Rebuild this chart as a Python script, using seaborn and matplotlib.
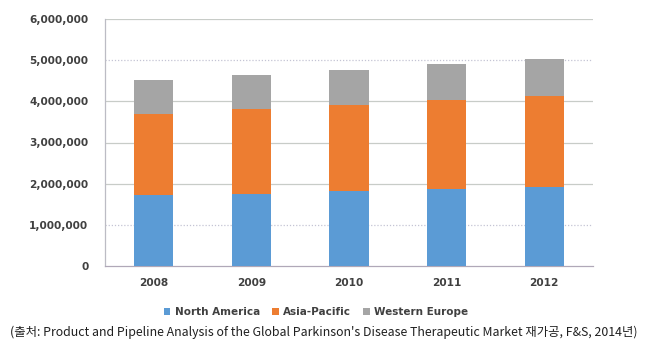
import matplotlib
matplotlib.use("Agg")
import matplotlib.pyplot as plt
import seaborn as sns
import pandas as pd
import numpy as np
from matplotlib.ticker import FuncFormatter
from matplotlib.patches import Patch

years = ["2008", "2009", "2010", "2011", "2012"]
north_america = [1720000, 1760000, 1820000, 1870000, 1920000]
asia_pacific = [1980000, 2050000, 2090000, 2160000, 2210000]
western_europe = [810000, 830000, 860000, 870000, 890000]
series_names = ["North America", "Asia-Pacific", "Western Europe"]
colors = ["#5B9BD5", "#ED7D31", "#A5A5A5"]
caption = "(출처: Product and Pipeline Analysis of the Global Parkinson's Disease Therapeutic Market 재가공, F&S, 2014년)"

sns.set_theme(style="white")
plt.rcParams['font.family'] = ['DejaVu Sans']

na = np.array(north_america)
ap = np.array(asia_pacific)
we = np.array(western_europe)
df = pd.DataFrame({
    "year": years,
    "l1": na,
    "l2": na + ap,
    "l3": na + ap + we,
})

fig = plt.figure(figsize=(6.46, 3.48), dpi=100)
ax = fig.add_axes([105/646, 1-266/348, (593-105)/646, (266-19)/348])

for col, c in zip(["l3", "l2", "l1"], colors[::-1]):
    sns.barplot(data=df, x="year", y=col, color=c, width=0.4, ax=ax,
                saturation=1, zorder=3, linewidth=0)

ax.set_ylim(0, 6000000)
ax.set_xlim(-0.5, 4.5)
ax.set_yticks(np.arange(0, 6000001, 1000000))
ax.yaxis.set_major_formatter(FuncFormatter(lambda v, p: f"{int(v):,}"))
ax.set_xlabel("")
ax.set_ylabel("")

grid_color = "#c8ccc8"
for v in [2000000, 3000000, 4000000, 6000000]:
    ax.axhline(v, color=grid_color, lw=0.9, zorder=1)
for v in [1000000, 5000000]:
    ax.axhline(v, color="#c4c4d4", lw=0.9, ls=(0, (1, 1.5)), zorder=1)

for s in ["top", "right"]:
    ax.spines[s].set_visible(False)
ax.spines["left"].set_color("#bcbcc4")
ax.spines["bottom"].set_color("#b0a8b8")
ax.spines["left"].set_linewidth(0.9)
ax.spines["bottom"].set_linewidth(0.9)

ax.tick_params(axis="both", length=0, labelsize=7.6, labelcolor="#404040")
ax.tick_params(axis="y", pad=12)
ax.tick_params(axis="x", pad=9)
for lab in ax.get_xticklabels() + ax.get_yticklabels():
    lab.set_fontweight("bold")

handles = [Patch(facecolor=c, edgecolor="none") for c in colors]
leg = fig.legend(handles, series_names, loc="center", bbox_to_anchor=(316/646, 1-312/348),
           ncol=3, frameon=False, handlelength=0.6, handleheight=0.6,
           handletextpad=0.4, columnspacing=1.2, labelcolor="#404040",
           prop={"weight": "bold", "size": 7.5})

fig.text(324/646, 1-332/348, caption, ha="center", va="center", fontsize=8.9,
         color="#202020", family=["Noto Sans CJK KR", "DejaVu Sans"])

fig.savefig("out.png", dpi=100)
